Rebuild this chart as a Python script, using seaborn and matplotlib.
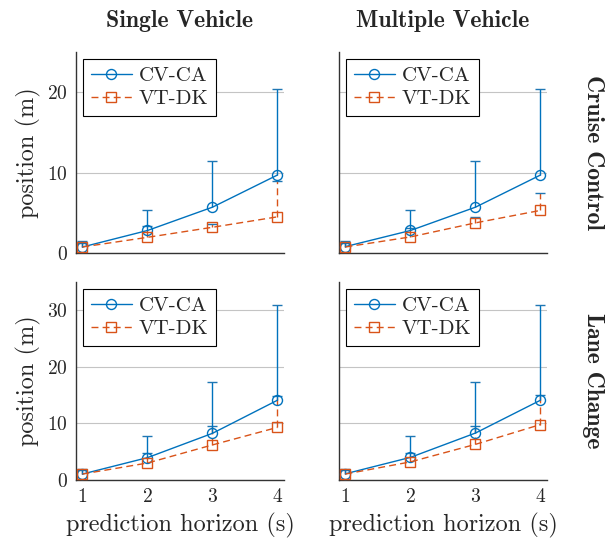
import numpy as np
import pandas as pd
import seaborn as sns
import matplotlib.pyplot as plt

# prediction horizon (s)
horizon = [1, 2, 3, 4]
models = ['CV-CA', 'VT-DK']

# mean position error (m) and upper end of the error bar, per scenario
cc_single_cvca = [0.75, 2.8, 5.7, 9.7]
cc_single_cvca_up = [1.5, 5.3, 11.5, 20.4]
cc_single_vtdk = [0.75, 1.95, 3.2, 4.5]
cc_single_vtdk_up = [1.2, 3.3, 3.6, 9.0]

cc_multi_cvca = [0.8, 2.8, 5.7, 9.7]
cc_multi_cvca_up = [1.5, 5.3, 11.5, 20.4]
cc_multi_vtdk = [0.75, 2.0, 3.75, 5.3]
cc_multi_vtdk_up = [1.2, 3.1, 4.5, 7.5]

lc_single_cvca = [1.05, 3.95, 8.25, 14.1]
lc_single_cvca_up = [2.0, 7.7, 17.3, 30.9]
lc_single_vtdk = [1.05, 3.0, 6.2, 9.3]
lc_single_vtdk_up = [1.8, 4.8, 9.5, 14.8]

lc_multi_cvca = [1.1, 4.0, 8.3, 14.1]
lc_multi_cvca_up = [2.0, 7.7, 17.3, 30.9]
lc_multi_vtdk = [1.05, 3.2, 6.3, 9.8]
lc_multi_vtdk_up = [1.8, 4.8, 9.5, 15.0]

col_titles = ['Single Vehicle', 'Multiple Vehicle']
row_titles = ['Cruise Control', 'Lane Change']

panels = [
    [(cc_single_cvca, cc_single_cvca_up, cc_single_vtdk, cc_single_vtdk_up),
     (cc_multi_cvca, cc_multi_cvca_up, cc_multi_vtdk, cc_multi_vtdk_up)],
    [(lc_single_cvca, lc_single_cvca_up, lc_single_vtdk, lc_single_vtdk_up),
     (lc_multi_cvca, lc_multi_cvca_up, lc_multi_vtdk, lc_multi_vtdk_up)],
]

colors = {'CV-CA': '#0072BD', 'VT-DK': '#D95319'}
markers = {'CV-CA': 'o', 'VT-DK': 's'}
dashes = {'CV-CA': '', 'VT-DK': (5, 3)}

sns.set_style('white')
plt.rcParams['font.family'] = ['cmr10', 'DejaVu Serif']
plt.rcParams['axes.formatter.use_mathtext'] = True
plt.rcParams['font.size'] = 14

fig = plt.figure(figsize=(6.06, 5.39), dpi=100)
lefts = [0.1254, 0.5594]
bottoms = [0.5306, 0.1095]
heights = [0.3729, 0.3673]
ylims = [(0, 25), (0, 35)]
yticks = [[0, 10, 20], [0, 10, 20, 30]]

for r in range(2):
    for c in range(2):
        ax = fig.add_axes([lefts[c], bottoms[r], 0.3432, heights[r]])
        cvca, cvca_up, vtdk, vtdk_up = panels[r][c]
        df = pd.DataFrame({
            'horizon': horizon * 2,
            'position': cvca + vtdk,
            'model': ['CV-CA'] * 4 + ['VT-DK'] * 4,
        })
        # error bars (upper only)
        for name, mean, up in [('VT-DK', vtdk, vtdk_up), ('CV-CA', cvca, cvca_up)]:
            lower = np.zeros(len(mean))
            upper = np.array(up) - np.array(mean)
            eb = ax.errorbar(horizon, mean, yerr=[lower, upper], fmt='none',
                             ecolor=colors[name], elinewidth=1.0, capsize=3.6,
                             capthick=1.0, zorder=2)
            eb[1][0].set_visible(False)
            if name == 'VT-DK':
                eb[2][0].set_linestyle((0, (5, 3)))
        sns.lineplot(data=df, x='horizon', y='position', hue='model', style='model',
                     palette=colors, markers=markers, dashes=dashes, ax=ax,
                     legend=False, linewidth=1.0, markersize=7.2, zorder=3)
        for line in ax.get_lines():
            line.set_markerfacecolor('none')
            line.set_markeredgecolor(line.get_color())
            line.set_markeredgewidth(1.0)
        lines = ax.get_lines()[-2:]
        leg = ax.legend(lines, models, loc='upper left', fancybox=False,
                        edgecolor='black', framealpha=1, handlelength=2.0,
                        handletextpad=0.3, borderaxespad=0.35, fontsize=15,
                        borderpad=0.35, labelspacing=0.22)
        leg.get_frame().set_linewidth(0.8)

        ax.set_xlim(0.9, 4.1)
        ax.set_ylim(*ylims[r])
        ax.set_xticks(horizon)
        ax.set_yticks(yticks[r])
        ax.yaxis.grid(True, color='#c4c4c4', linewidth=0.8)
        ax.set_axisbelow(True)
        for s in ['top', 'right']:
            ax.spines[s].set_visible(False)
        for s in ['left', 'bottom']:
            ax.spines[s].set_color('#333333')
            ax.spines[s].set_linewidth(1.0)
        ax.tick_params(axis='x', direction='in', length=7, color='#aaaaaa',
                       width=0.8, labelsize=14, pad=6)
        ax.tick_params(axis='y', direction='in', length=0, labelsize=14, pad=6)
        if r == 0:
            ax.set_xticklabels([])
            ax.set_title(col_titles[c], fontfamily='cmb10', fontsize=17, pad=18)
        if r == 1:
            ax.set_xlabel('prediction horizon (s)', fontsize=17.5, labelpad=5)
        else:
            ax.set_xlabel('')
        if c == 0:
            ax.set_ylabel('position (m)', fontsize=17.5, labelpad=4)
        else:
            ax.set_ylabel('')
            ax.set_yticklabels([])
            ax.text(1.22, 0.5, row_titles[r], transform=ax.transAxes, rotation=-90,
                    ha='center', va='center', fontfamily='cmb10', fontsize=17)

fig.savefig('out.png', dpi=100)
